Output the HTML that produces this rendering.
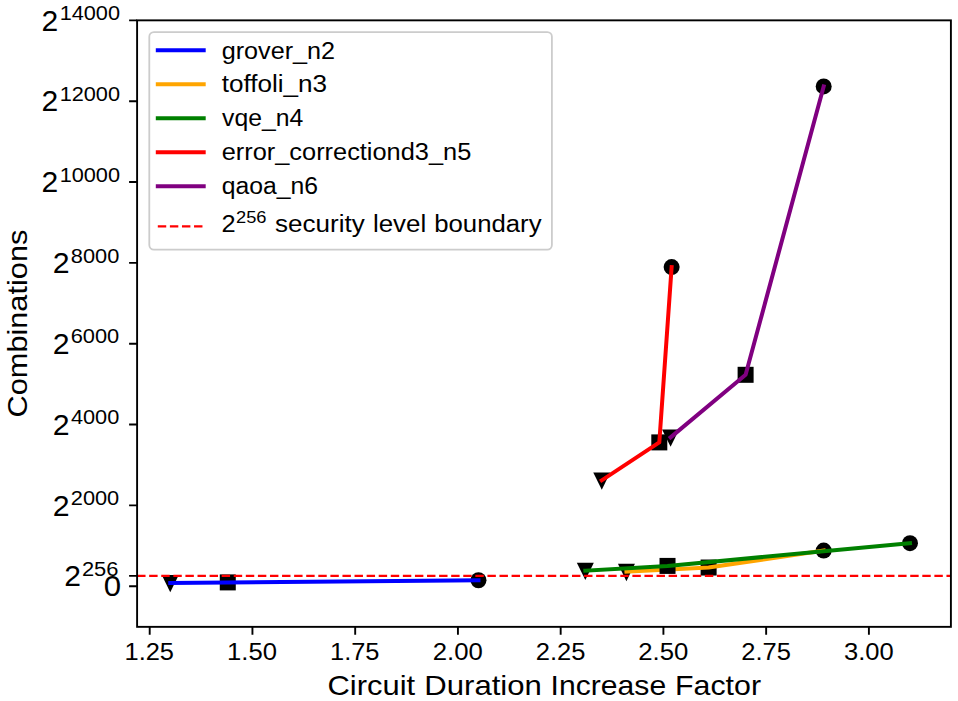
<!DOCTYPE html>
<html><head><meta charset="utf-8"><title>Combinations vs Circuit Duration Increase Factor</title>
<style>html,body{margin:0;padding:0;background:#fff;width:958px;height:701px;overflow:hidden}
text{font-family:"Liberation Sans",sans-serif}</style></head><body>
<svg width="958" height="701" viewBox="0 0 958 701" style="display:block">
<rect width="958" height="701" fill="#fff"/>
<g font-family="Liberation Sans, sans-serif" fill="#000">
<g fill="#000"><polygon points="161.75,574.99 178.75,574.99 170.25,592.29"/><rect x="219.78" y="574.40" width="16" height="16"/><circle cx="478.48" cy="580.22" r="8"/></g>
<polyline points="170.25,582.89 227.78,582.40 478.48,580.22" fill="none" stroke="#0000ff" stroke-width="4.0" stroke-linecap="square" stroke-linejoin="round"/>
<g fill="#000"><polygon points="617.93,563.83 634.93,563.83 626.43,581.13"/><rect x="700.62" y="559.53" width="16" height="16"/><circle cx="823.69" cy="550.59" r="8"/></g>
<polyline points="626.43,571.73 708.62,567.53 823.69,550.59" fill="none" stroke="#ffa500" stroke-width="4.0" stroke-linecap="square" stroke-linejoin="round"/>
<g fill="#000"><polygon points="576.83,562.82 593.83,562.82 585.33,580.12"/><rect x="659.52" y="557.91" width="16" height="16"/><circle cx="909.99" cy="543.20" r="8"/></g>
<polyline points="585.33,570.72 667.52,565.91 909.99,543.20" fill="none" stroke="#008000" stroke-width="4.0" stroke-linecap="square" stroke-linejoin="round"/>
<g fill="#000"><polygon points="593.27,472.40 610.27,472.40 601.77,489.70"/><rect x="651.30" y="434.39" width="16" height="16"/><circle cx="671.63" cy="267.10" r="8"/></g>
<polyline points="601.77,480.30 659.30,442.39 671.63,267.10" fill="none" stroke="#ff0000" stroke-width="4.0" stroke-linecap="square" stroke-linejoin="round"/>
<g fill="#000"><polygon points="662.10,429.44 679.10,429.44 670.60,446.74"/><rect x="737.61" y="366.81" width="16" height="16"/><circle cx="823.69" cy="86.39" r="8"/></g>
<polyline points="670.60,437.34 745.61,374.81 823.69,86.39" fill="none" stroke="#800080" stroke-width="4.0" stroke-linecap="square" stroke-linejoin="round"/>
<line x1="137.1" y1="575.85" x2="950.9" y2="575.85" stroke="#ff0000" stroke-width="2.29" stroke-dasharray="8.43 3.65"/>
<rect x="137.1" y="20.35" width="813.80" height="606.50" fill="none" stroke="#000" stroke-width="1.9"/>
<path d="M149.70,626.85v8.0M252.44,626.85v8.0M355.19,626.85v8.0M457.93,626.85v8.0M560.67,626.85v8.0M663.41,626.85v8.0M766.15,626.85v8.0M868.90,626.85v8.0M137.1,586.20h-8.0M137.1,575.85h-8.0M137.1,505.36h-8.0M137.1,424.53h-8.0M137.1,343.69h-8.0M137.1,262.86h-8.0M137.1,182.02h-8.0M137.1,101.18h-8.0M137.1,20.35h-8.0" stroke="#000" stroke-width="1.9" fill="none"/>
<text x="124.51" y="659.80" font-size="24.36" textLength="49.51" lengthAdjust="spacingAndGlyphs">1.25</text>
<text x="226.99" y="659.80" font-size="24.36" textLength="49.94" lengthAdjust="spacingAndGlyphs">1.50</text>
<text x="329.99" y="659.80" font-size="24.36" textLength="49.51" lengthAdjust="spacingAndGlyphs">1.75</text>
<text x="432.72" y="659.80" font-size="24.36" textLength="50.13" lengthAdjust="spacingAndGlyphs">2.00</text>
<text x="535.71" y="659.80" font-size="24.36" textLength="49.70" lengthAdjust="spacingAndGlyphs">2.25</text>
<text x="638.20" y="659.80" font-size="24.36" textLength="50.13" lengthAdjust="spacingAndGlyphs">2.50</text>
<text x="741.20" y="659.80" font-size="24.36" textLength="49.70" lengthAdjust="spacingAndGlyphs">2.75</text>
<text x="844.05" y="659.80" font-size="24.36" textLength="49.73" lengthAdjust="spacingAndGlyphs">3.00</text>
<text x="103.88" y="596.45" font-size="28.79" textLength="17.34" lengthAdjust="spacingAndGlyphs">0</text>
<text x="64.19" y="586.10" font-size="28.79" textLength="16.72" lengthAdjust="spacingAndGlyphs">2</text>
<text x="81.90" y="575.50" font-size="20.15" textLength="36.57" lengthAdjust="spacingAndGlyphs">256</text>
<text x="52.88" y="515.61" font-size="28.79" textLength="16.85" lengthAdjust="spacingAndGlyphs">2</text>
<text x="70.77" y="505.01" font-size="20.15" textLength="48.48" lengthAdjust="spacingAndGlyphs">2000</text>
<text x="52.88" y="434.78" font-size="28.79" textLength="16.85" lengthAdjust="spacingAndGlyphs">2</text>
<text x="70.90" y="424.18" font-size="20.15" textLength="48.35" lengthAdjust="spacingAndGlyphs">4000</text>
<text x="52.88" y="353.94" font-size="28.79" textLength="16.85" lengthAdjust="spacingAndGlyphs">2</text>
<text x="70.69" y="343.34" font-size="20.15" textLength="48.56" lengthAdjust="spacingAndGlyphs">6000</text>
<text x="52.88" y="273.11" font-size="28.79" textLength="16.85" lengthAdjust="spacingAndGlyphs">2</text>
<text x="70.82" y="262.51" font-size="20.15" textLength="48.43" lengthAdjust="spacingAndGlyphs">8000</text>
<text x="41.49" y="192.27" font-size="28.79" textLength="16.72" lengthAdjust="spacingAndGlyphs">2</text>
<text x="59.65" y="181.67" font-size="20.15" textLength="60.40" lengthAdjust="spacingAndGlyphs">10000</text>
<text x="41.49" y="111.43" font-size="28.79" textLength="16.72" lengthAdjust="spacingAndGlyphs">2</text>
<text x="59.65" y="100.83" font-size="20.15" textLength="60.40" lengthAdjust="spacingAndGlyphs">12000</text>
<text x="41.49" y="30.60" font-size="28.79" textLength="16.72" lengthAdjust="spacingAndGlyphs">2</text>
<text x="59.65" y="20.00" font-size="20.15" textLength="60.40" lengthAdjust="spacingAndGlyphs">14000</text>
<text x="327.53" y="694.50" font-size="28.44" textLength="87.62" lengthAdjust="spacingAndGlyphs">Circuit</text>
<text x="424.31" y="694.50" font-size="28.44" textLength="117.53" lengthAdjust="spacingAndGlyphs">Duration</text>
<text x="550.64" y="694.50" font-size="28.44" textLength="115.51" lengthAdjust="spacingAndGlyphs">Increase</text>
<text x="675.07" y="694.50" font-size="28.44" textLength="85.93" lengthAdjust="spacingAndGlyphs">Factor</text>
<g transform="translate(26.6,0) rotate(-90)">
<text x="-417.46" y="0.00" font-size="28.44" textLength="187.77" lengthAdjust="spacingAndGlyphs">Combinations</text>
</g>
<rect x="149.3" y="32.1" width="402.6" height="217.6" rx="4.6" ry="4.6" fill="#fff" fill-opacity="0.8" stroke="#cccccc" stroke-width="1.8"/>
<line x1="157.8" y1="50.35" x2="203.7" y2="50.35" stroke="#0000ff" stroke-width="4.0" stroke-linecap="square"/>
<text x="221.71" y="58.50" font-size="23.95" textLength="113.36" lengthAdjust="spacingAndGlyphs">grover_n2</text>
<line x1="157.8" y1="84.33" x2="203.7" y2="84.33" stroke="#ffa500" stroke-width="4.0" stroke-linecap="square"/>
<text x="221.72" y="92.48" font-size="23.95" textLength="105.42" lengthAdjust="spacingAndGlyphs">toffoli_n3</text>
<line x1="157.8" y1="118.31" x2="203.7" y2="118.31" stroke="#008000" stroke-width="4.0" stroke-linecap="square"/>
<text x="222.10" y="126.46" font-size="23.95" textLength="81.13" lengthAdjust="spacingAndGlyphs">vqe_n4</text>
<line x1="157.8" y1="152.29" x2="203.7" y2="152.29" stroke="#ff0000" stroke-width="4.0" stroke-linecap="square"/>
<text x="221.69" y="160.44" font-size="23.95" textLength="249.58" lengthAdjust="spacingAndGlyphs">error_correctiond3_n5</text>
<line x1="157.8" y1="186.27" x2="203.7" y2="186.27" stroke="#800080" stroke-width="4.0" stroke-linecap="square"/>
<text x="221.73" y="194.42" font-size="23.95" textLength="96.26" lengthAdjust="spacingAndGlyphs">qaoa_n6</text>
<line x1="157.8" y1="226.3" x2="203.7" y2="226.3" stroke="#ff0000" stroke-width="2.29" stroke-dasharray="8.43 3.65"/>
<text x="221.52" y="231.90" font-size="24.36" textLength="14.16" lengthAdjust="spacingAndGlyphs">2</text>
<text x="235.98" y="222.90" font-size="17.05" textLength="30.52" lengthAdjust="spacingAndGlyphs">256</text>
<text x="275.08" y="231.90" font-size="23.95" textLength="89.64" lengthAdjust="spacingAndGlyphs">security</text>
<text x="372.96" y="231.90" font-size="23.95" textLength="53.27" lengthAdjust="spacingAndGlyphs">level</text>
<text x="434.26" y="231.90" font-size="23.95" textLength="107.29" lengthAdjust="spacingAndGlyphs">boundary</text>
</g></svg>
</body></html>
